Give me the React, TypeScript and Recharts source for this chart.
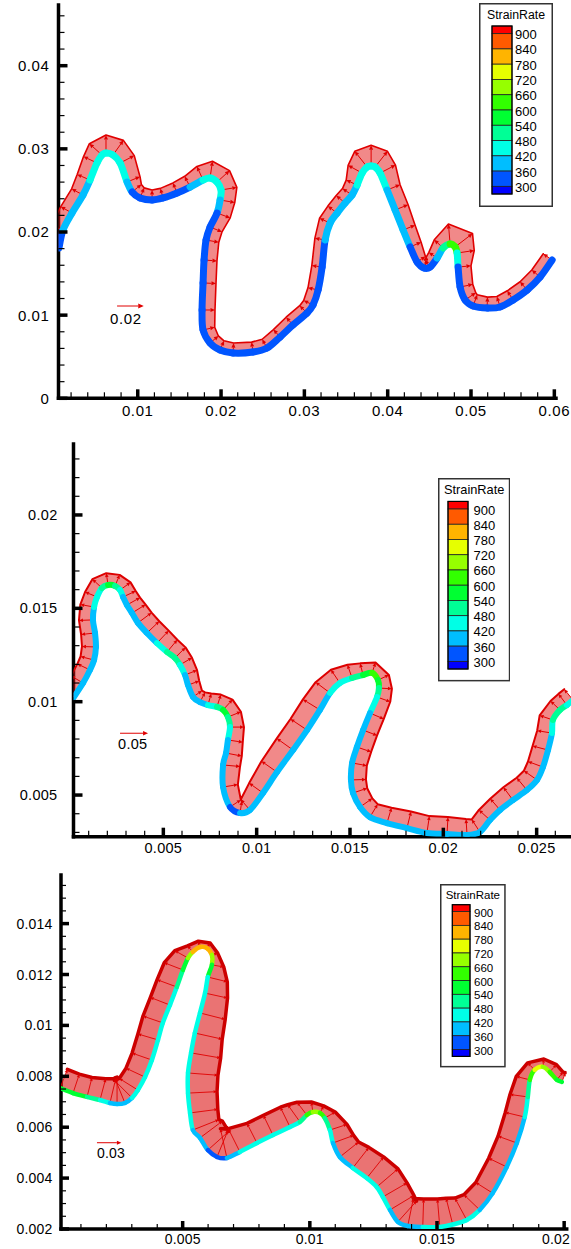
import React from 'react';
import { ScatterChart, Scatter, XAxis, YAxis, Legend } from 'recharts';

const FONT = "'Liberation Sans', Arial, Helvetica, sans-serif";
const CHART_W = 571;

// ---------- colour map (StrainRate contour levels, top to bottom) ----------
const levelValues = [900, 840, 780, 720, 660, 600, 540, 480, 420, 360, 300];
const levelColors = ['#ff0000', '#ff5a00', '#ffb400', '#e6ff00', '#96ff00', '#32ff00', '#00ff32', '#00ff96', '#00ffe6', '#00beff', '#0055ff', '#0000ff'];
const legendTitle = 'StrainRate';

// ---------- panel 1 ----------
const p1X = [0.00055, 0.00103, 0.00211, 0.00343, 0.00427, 0.00511, 0.00571, 0.00619, 0.00703, 0.00788,
  0.00872, 0.00932, 0.01028, 0.01172, 0.01304, 0.01472, 0.01628, 0.01784, 0.01868, 0.01952,
  0.02, 0.01988, 0.01952, 0.01868, 0.0182, 0.01796, 0.01784, 0.01772, 0.01784, 0.01868,
  0.01988, 0.02144, 0.02384, 0.02552, 0.02708, 0.02864, 0.03032, 0.03104, 0.03165, 0.03213,
  0.03249, 0.03309, 0.03393, 0.03489, 0.03573, 0.03633, 0.03693, 0.03753, 0.03801, 0.03849,
  0.03909, 0.03993, 0.04089, 0.04185, 0.04269, 0.04353, 0.04437, 0.04509, 0.04593, 0.04665,
  0.04749, 0.04809, 0.04833, 0.04845, 0.04869, 0.04929, 0.05025, 0.05193, 0.05349, 0.05505,
  0.05674, 0.0583, 0.05974];
const p1Y = [0.01808, 0.02024, 0.02228, 0.02445, 0.02625, 0.0283, 0.02926, 0.0295, 0.02926, 0.0283,
  0.02601, 0.02481, 0.02409, 0.02385, 0.02409, 0.02469, 0.02541, 0.02625, 0.02649, 0.02601,
  0.02505, 0.02385, 0.02228, 0.0206, 0.01904, 0.01663, 0.01387, 0.01062, 0.00821, 0.00665,
  0.00581, 0.00545, 0.00557, 0.00605, 0.00737, 0.00882, 0.01026, 0.01122, 0.01302, 0.01579,
  0.01904, 0.02108, 0.02228, 0.02349, 0.02445, 0.02565, 0.02709, 0.02782, 0.02794, 0.02782,
  0.02709, 0.02505, 0.02265, 0.02024, 0.0182, 0.01639, 0.01567, 0.01579, 0.01687, 0.01808,
  0.01856, 0.0182, 0.01747, 0.01579, 0.01338, 0.01182, 0.0111, 0.01086, 0.01098, 0.01182,
  0.01302, 0.01459, 0.01663];
const p1Rate = [330, 330, 390, 390, 390, 450, 450, 450, 450, 450,
  390, 330, 330, 330, 330, 330, 330, 450, 450, 450,
  450, 390, 330, 330, 330, 330, 330, 330, 330, 330,
  330, 330, 330, 330, 330, 330, 330, 330, 330, 330,
  330, 390, 390, 330, 390, 390, 450, 450, 450, 450,
  450, 390, 390, 390, 330, 330, 330, 330, 330, 390,
  630, 630, 570, 330, 330, 330, 330, 330, 330, 330,
  330, 330, 330];
const p1Mag = [0.009, 0.0097, 0.0097, 0.0097, 0.0105, 0.0112, 0.0127, 0.0135, 0.0135, 0.012,
  0.0105, 0.009, 0.0082, 0.0075, 0.0075, 0.0082, 0.009, 0.0112, 0.0127, 0.0127,
  0.012, 0.0112, 0.0105, 0.0097, 0.0097, 0.0097, 0.0097, 0.0097, 0.009, 0.0082,
  0.0075, 0.0075, 0.0075, 0.0075, 0.0075, 0.0078, 0.0078, 0.0078, 0.0078, 0.0078,
  0.0078, 0.0087, 0.0087, 0.0087, 0.0087, 0.009, 0.012, 0.015, 0.0155, 0.015,
  0.013, 0.0105, 0.0105, 0.0097, 0.009, 0.0075, 0.0067, 0.0067, 0.0075, 0.009,
  0.015, 0.0165, 0.013, 0.0097, 0.0097, 0.0097, 0.009, 0.0082, 0.0082, 0.0082,
  0.0082, 0.0082, 0.0082];
const p1XMajor = [0.01, 0.02, 0.03, 0.04, 0.05, 0.06];
const p1YMajor = [0, 0.01, 0.02, 0.03, 0.04];
const p1RefAt = [0.00752, 0.0111];
const p1RefVector = 0.02;
const p1RefLabel = '0.02';

// ---------- panel 2 ----------
const p2X = [0.00021, 0.0007, 0.00107, 0.00129, 0.00139, 0.00134, 0.00123, 0.00129, 0.00145, 0.00171,
  0.00204, 0.00241, 0.00268, 0.00284, 0.00305, 0.00332, 0.00364, 0.00412, 0.00466, 0.0052,
  0.00562, 0.00589, 0.00616, 0.00632, 0.00659, 0.00696, 0.00739, 0.00787, 0.0082, 0.00846,
  0.00857, 0.00846, 0.00836, 0.0082, 0.0082, 0.00857, 0.00911, 0.00964, 0.01034, 0.01109,
  0.01195, 0.0127, 0.01339, 0.01393, 0.01446, 0.01511, 0.0157, 0.01618, 0.0165, 0.01655,
  0.01645, 0.01607, 0.0157, 0.01537, 0.01511, 0.01505, 0.01516, 0.01554, 0.01607, 0.01698,
  0.01805, 0.01912, 0.0202, 0.02127, 0.02196, 0.0225, 0.02304, 0.02373, 0.02448, 0.02502,
  0.02534, 0.02561, 0.02582, 0.02587, 0.02625, 0.02662, 0.02695];
const p2Y = [0.01025, 0.011, 0.0117, 0.01223, 0.01293, 0.01368, 0.01438, 0.01507, 0.01561, 0.01609,
  0.01625, 0.0162, 0.01598, 0.01561, 0.01518, 0.01475, 0.01422, 0.01368, 0.01314, 0.01266,
  0.01234, 0.01197, 0.01143, 0.01089, 0.01025, 0.00998, 0.00982, 0.00972, 0.00956, 0.00918,
  0.00864, 0.00795, 0.00725, 0.00661, 0.00543, 0.00436, 0.00404, 0.0042, 0.00511, 0.00623,
  0.00741, 0.00848, 0.00956, 0.01047, 0.011, 0.01127, 0.01143, 0.01154, 0.01116, 0.01073,
  0.01025, 0.00939, 0.00848, 0.00757, 0.00672, 0.00581, 0.00511, 0.00436, 0.00382, 0.0035,
  0.00323, 0.00297, 0.00291, 0.00286, 0.00302, 0.00366, 0.0042, 0.00473, 0.00527, 0.00581,
  0.0065, 0.00741, 0.00832, 0.00902, 0.00956, 0.00982, 0.01009];
const p2Rate = [390, 390, 390, 390, 390, 390, 390, 390, 450, 450,
  570, 510, 450, 390, 390, 390, 390, 390, 390, 450,
  510, 450, 390, 390, 330, 390, 390, 450, 570, 510,
  450, 390, 390, 390, 390, 330, 330, 390, 390, 390,
  390, 390, 390, 390, 450, 450, 510, 570, 630, 510,
  450, 390, 390, 390, 390, 390, 390, 390, 390, 390,
  390, 390, 390, 390, 330, 390, 390, 390, 390, 390,
  390, 390, 390, 450, 510, 450, 390];
const p2Mag = [0.025, 0.025, 0.025, 0.025, 0.025, 0.025, 0.025, 0.025, 0.0232, 0.0232,
  0.0214, 0.0214, 0.0232, 0.025, 0.0268, 0.0286, 0.0304, 0.0304, 0.0304, 0.0286,
  0.0268, 0.025, 0.0232, 0.0214, 0.0196, 0.0196, 0.0214, 0.0232, 0.025, 0.025,
  0.025, 0.0268, 0.0286, 0.0304, 0.0268, 0.0232, 0.0214, 0.025, 0.0304, 0.0339,
  0.0357, 0.0357, 0.0357, 0.0321, 0.0286, 0.025, 0.0214, 0.0196, 0.0214, 0.0232,
  0.025, 0.0268, 0.0268, 0.0268, 0.0268, 0.0268, 0.0268, 0.0268, 0.0268, 0.0286,
  0.0304, 0.0304, 0.0304, 0.0286, 0.0268, 0.0268, 0.0268, 0.0286, 0.0286, 0.0286,
  0.0286, 0.0286, 0.0268, 0.025, 0.0232, 0.025, 0.025];
const p2XMajor = [0.005, 0.01, 0.015, 0.02, 0.025];
const p2YMajor = [0.005, 0.01, 0.015, 0.02];
const p2RefAt = [0.00268, 0.00831];
const p2RefVector = 0.05;
const p2RefLabel = '0.05';

// ---------- panel 3 ----------
const p3X = [0.00018, 0.00069, 0.00124, 0.00175, 0.00214, 0.00242, 0.00273, 0.00301, 0.00324, 0.00352,
  0.00379, 0.00403, 0.00422, 0.0045, 0.00477, 0.00501, 0.00521, 0.0054, 0.00568, 0.00595,
  0.00615, 0.00615, 0.00599, 0.00588, 0.00568, 0.00548, 0.00533, 0.00521, 0.00521, 0.00529,
  0.0054, 0.00568, 0.00599, 0.00635, 0.00674, 0.00725, 0.00792, 0.00855, 0.00922, 0.00961,
  0.00988, 0.01012, 0.0104, 0.01059, 0.01079, 0.01091, 0.01118, 0.01169, 0.01224, 0.01263,
  0.01287, 0.01315, 0.01346, 0.01385, 0.01444, 0.01511, 0.01562, 0.01617, 0.01668, 0.01719,
  0.01774, 0.01814, 0.01845, 0.01857, 0.01865, 0.01884, 0.01916, 0.01943, 0.01971, 0.01991];
const p3Y = [0.00754, 0.00734, 0.00719, 0.00707, 0.00695, 0.00691, 0.00695, 0.00715, 0.00746, 0.00797,
  0.00864, 0.00943, 0.0101, 0.0108, 0.01151, 0.01218, 0.01265, 0.01289, 0.01308, 0.01304,
  0.01277, 0.01238, 0.0119, 0.01127, 0.01049, 0.0097, 0.00892, 0.00813, 0.00734, 0.00656,
  0.00589, 0.00558, 0.0051, 0.00483, 0.00479, 0.00503, 0.00538, 0.00569, 0.00601, 0.00621,
  0.00648, 0.0066, 0.00656, 0.00636, 0.00589, 0.00538, 0.00483, 0.0044, 0.004, 0.00365,
  0.00326, 0.00275, 0.00228, 0.00212, 0.00208, 0.00208, 0.00218, 0.00235, 0.00275, 0.00341,
  0.00444, 0.00538, 0.0064, 0.00719, 0.00786, 0.00825, 0.00837, 0.00817, 0.00786, 0.00778];
const p3Rate = [570, 570, 510, 450, 390, 390, 390, 390, 450, 450,
  450, 450, 450, 450, 450, 510, 630, 750, 810, 810,
  750, 630, 450, 450, 450, 450, 450, 450, 450, 450,
  390, 390, 330, 330, 330, 390, 450, 450, 450, 450,
  570, 630, 690, 570, 450, 390, 390, 390, 450, 450,
  450, 390, 390, 390, 390, 450, 450, 450, 390, 390,
  390, 390, 390, 450, 570, 690, 750, 630, 570, 510];
const p3Mag = [0.0246, 0.0246, 0.0246, 0.027, 0.0307, 0.0332, 0.0332, 0.0307, 0.027, 0.0258,
  0.0258, 0.0258, 0.0258, 0.0258, 0.0258, 0.0246, 0.0185, 0.0098, 0.0074, 0.0074,
  0.0074, 0.0148, 0.0246, 0.0283, 0.032, 0.0344, 0.0369, 0.0369, 0.0357, 0.0344,
  0.0344, 0.0344, 0.0344, 0.0369, 0.0369, 0.032, 0.027, 0.027, 0.027, 0.0258,
  0.0197, 0.0123, 0.0098, 0.0148, 0.0221, 0.027, 0.0295, 0.032, 0.0332, 0.0344,
  0.0344, 0.0344, 0.0344, 0.0344, 0.0344, 0.0344, 0.0332, 0.0307, 0.027, 0.0246,
  0.0246, 0.0246, 0.0246, 0.0221, 0.0172, 0.0123, 0.0098, 0.0123, 0.0123, 0.0123];
const p3XMajor = [0.005, 0.01, 0.015, 0.02];
const p3YMajor = [0.002, 0.004, 0.006, 0.008, 0.01, 0.012, 0.014];
const p3RefAt = [0.00163, 0.00539];
const p3RefVector = 0.03;
const p3RefLabel = '0.03';

// ---------- helpers ----------
function colorFor(rate: number) {
  for (let i = 0; i < levelValues.length; i++) if (rate >= levelValues[i]) return levelColors[i];
  return levelColors[levelColors.length - 1];
}

function minorTicks(from: number, to: number, step: number, majors: number[]) {
  const out: number[] = [];
  for (let k = 0; from + k * step <= to + step * 1e-6; k++) {
    const v = +(from + k * step).toFixed(7);
    if (!majors.some((m) => Math.abs(m - v) < 1e-9)) out.push(v);
  }
  return out;
}

type Pt = { x: number; y: number };

function buildGeometry(xs: number[], ys: number[], mag: number[], vecScale: number) {
  const knots: Pt[] = xs.map((x, i) => ({ x, y: ys[i] }));
  const n = knots.length;
  const tips: Pt[] = knots.map((k, i) => {
    const a = knots[Math.max(0, i - 1)];
    const b = knots[Math.min(n - 1, i + 1)];
    const tx = b.x - a.x;
    const ty = b.y - a.y;
    const len = Math.hypot(tx, ty) || 1;
    const L = mag[i] * vecScale;
    return { x: k.x - (ty / len) * L, y: k.y + (tx / len) * L };
  });
  const arrows: Pt[] = [];
  knots.forEach((k, i) => { arrows.push(k); arrows.push(tips[i]); });
  const band: Pt[] = [...knots, ...tips.slice().reverse()];
  return { knots, arrows, band };
}

function EmptyShape() {
  return <g />;
}

function BandPath(props: any) {
  const pts: Pt[] = props.points || [];
  const n = props.count;
  if (pts.length < 2 * n) return <g />;
  const poly = pts.map((p, i) => `${i ? 'L' : 'M'}${p.x.toFixed(2)},${p.y.toFixed(2)}`).join('') + 'Z';
  const tip = pts.slice(n).map((p, i) => `${i ? 'L' : 'M'}${p.x.toFixed(2)},${p.y.toFixed(2)}`).join('');
  return (
    <g>
      <path d={poly} fill={props.bandColor} fillOpacity={props.bandOpacity} stroke="none" />
      <path d={tip} fill="none" stroke={props.tipColor} strokeWidth={props.tipWidth} strokeLinejoin="round" strokeLinecap="round" />
    </g>
  );
}

function arrowEls(a: Pt, b: Pt, color: string, shaft: number, head: number, key: string) {
  const dx = b.x - a.x;
  const dy = b.y - a.y;
  const len = Math.hypot(dx, dy);
  if (len < 0.5) return null;
  const ux = dx / len;
  const uy = dy / len;
  const hl = Math.min(head, len * 0.6);
  const hw = hl * 0.45;
  const bx = b.x - ux * hl;
  const by = b.y - uy * hl;
  return (
    <g key={key}>
      <line x1={a.x} y1={a.y} x2={bx} y2={by} stroke={color} strokeWidth={shaft} />
      <polygon points={`${b.x},${b.y} ${bx - uy * hw},${by + ux * hw} ${bx + uy * hw},${by - ux * hw}`} fill={color} />
    </g>
  );
}

function ArrowSet(props: any) {
  const pts: Pt[] = props.points || [];
  const els: any[] = [];
  for (let i = 0; i + 1 < pts.length; i += 2) {
    els.push(arrowEls(pts[i], pts[i + 1], props.arrowColor, props.shaft, props.head, 'a' + i));
  }
  return <g>{els}</g>;
}

function CurvePath(props: any) {
  const pts: Pt[] = props.points || [];
  const rates: number[] = props.rates;
  const segs: any[] = [];
  for (let i = 0; i < pts.length - 1; i++) {
    const p0 = pts[Math.max(0, i - 1)];
    const p1 = pts[i];
    const p2 = pts[i + 1];
    const p3 = pts[Math.min(pts.length - 1, i + 2)];
    const c1x = p1.x + (p2.x - p0.x) / 6;
    const c1y = p1.y + (p2.y - p0.y) / 6;
    const c2x = p2.x - (p3.x - p1.x) / 6;
    const c2y = p2.y - (p3.y - p1.y) / 6;
    const rate = (rates[i] + rates[i + 1]) / 2;
    segs.push(
      <path key={i} d={`M${p1.x},${p1.y}C${c1x},${c1y} ${c2x},${c2y} ${p2.x},${p2.y}`}
        stroke={colorFor(rate)} strokeWidth={props.curveWidth} fill="none" strokeLinecap="round" />
    );
  }
  return <g>{segs}</g>;
}

function RefArrow(props: any) {
  const pts: Pt[] = props.points || [];
  if (pts.length < 2) return <g />;
  const a = pts[0];
  return (
    <g>
      {arrowEls(a, pts[1], props.arrowColor, 1, props.head + 1, 'ref')}
      <text x={a.x + props.labelDx} y={a.y + props.labelDy} fontFamily={FONT} fontSize={props.labelSize}
        letterSpacing={props.spacing} dominantBaseline="central" fill="#000">{props.label}</text>
    </g>
  );
}

function ColorBar({ box }: any) {
  const u = box.barH / 11;
  return (
    <svg width={box.w} height={box.h} style={{ display: 'block' }}>
      <rect x={0.75} y={0.75} width={box.w - 1.5} height={box.h - 1.5} fill="#fff" stroke="#333" strokeWidth={1.5} />
      <text x={box.w / 2} y={box.titleY} textAnchor="middle" dominantBaseline="central" fontFamily={FONT} fontSize={box.titleSize} fill="#000">{legendTitle}</text>
      {levelColors.map((c, i) => {
        const y0 = i === 0 ? 0 : (i - 0.5) * u;
        const y1 = i === levelColors.length - 1 ? 11 * u : (i + 0.5) * u;
        return <rect key={i} x={box.barX} y={box.barTop + y0} width={box.barW} height={y1 - y0} fill={c} stroke="#222" strokeWidth={0.8} />;
      })}
      <rect x={box.barX} y={box.barTop} width={box.barW} height={box.barH} fill="none" stroke="#000" strokeWidth={1.2} />
      {levelValues.map((v, i) => (
        <text key={'t' + i} x={box.labelX} y={box.barTop + (i + 0.5) * u + 1} dominantBaseline="central"
          fontFamily={FONT} fontSize={box.labelSize} fill="#000">{v}</text>
      ))}
    </svg>
  );
}

function makeTick(axis: 'x' | 'y', majors: number[], o: any) {
  return (props: any) => {
    const { x, y, payload } = props;
    const v = payload.value;
    const major = majors.some((m) => Math.abs(m - v) < 1e-9);
    const len = major ? o.majorLen : o.minorLen;
    const w = major ? o.majorW : o.minorW;
    if (axis === 'x') {
      const nearEdge = x > CHART_W - 16;
      return (
        <g>
          <line x1={x} x2={x} y1={y} y2={y - len} stroke="#000" strokeWidth={w} />
          {major && (
            <text x={nearEdge ? CHART_W - 1 : x} y={y + o.xLabelOff} textAnchor={nearEdge ? 'end' : 'middle'}
              dominantBaseline="central" fontFamily={FONT} fontSize={o.font} letterSpacing={o.spacing} fill="#000">{String(v)}</text>
          )}
        </g>
      );
    }
    return (
      <g>
        <line x1={x} x2={x + len} y1={y} y2={y} stroke="#000" strokeWidth={w} />
        {major && (
          <text x={x - o.yLabelOff} y={y} textAnchor="end" dominantBaseline="central" fontFamily={FONT}
            fontSize={o.font} letterSpacing={o.spacing} fill="#000">{String(v)}</text>
        )}
      </g>
    );
  };
}

const panels = [
  {
    top: 0, height: 425, margin: { top: 5, right: 15, bottom: 0, left: 0 }, yAxisWidth: 58.5, xAxisHeight: 26.7,
    xDomain: [0.00049, 0.0602], yDomain: [0, 0.0473],
    xs: p1X, ys: p1Y, rate: p1Rate, mag: p1Mag, vecScale: 0.16,
    refAt: p1RefAt, refVector: p1RefVector, refLabel: p1RefLabel, refLabelDx: -7, refLabelDy: 12,
    xMajor: p1XMajor, yMajor: p1YMajor,
    xMinor: minorTicks(0.002, 0.058, 0.002, p1XMajor), yMinor: minorTicks(0.002, 0.046, 0.002, p1YMajor),
    curveWidth: 7, shaft: 1, head: 4.5, bandColor: '#e31414', bandOpacity: 0.5, tipColor: '#e00000', tipWidth: 1.6,
    tick: { font: 15, spacing: 0.6, yLabelOff: 9, xLabelOff: 12, majorLen: 9, minorLen: 6, majorW: 3.5, minorW: 1.2 },
    legend: { left: 479, top: 3, w: 74, h: 204, barX: 13, barW: 20, barTop: 23, barH: 168, titleY: 12, titleSize: 12.3, labelX: 36, labelSize: 13 },
  },
  {
    top: 430, height: 430, margin: { top: 14, right: 0, bottom: 0, left: 0 }, yAxisWidth: 73.5, xAxisHeight: 23.3,
    xDomain: [0.000187, 0.02684], yDomain: [0.00277, 0.0238],
    xs: p2X, ys: p2Y, rate: p2Rate, mag: p2Mag, vecScale: 0.03,
    refAt: p2RefAt, refVector: p2RefVector, refLabel: p2RefLabel, refLabelDx: -2, refLabelDy: 11,
    xMajor: p2XMajor, yMajor: p2YMajor,
    xMinor: minorTicks(0.001, 0.026, 0.001, p2XMajor), yMinor: minorTicks(0.003, 0.023, 0.001, p2YMajor),
    curveWidth: 6, shaft: 1, head: 4, bandColor: '#e31414', bandOpacity: 0.5, tipColor: '#dd0000', tipWidth: 2,
    tick: { font: 14.5, spacing: 0.3, yLabelOff: 16, xLabelOff: 11.5, majorLen: 9, minorLen: 6, majorW: 3.5, minorW: 1.2 },
    legend: { left: 437.7, top: 48.3, w: 72.3, h: 203.4, barX: 10, barW: 20, barTop: 23.4, barH: 167.6, titleY: 11.7, titleSize: 12.8, labelX: 35.6, labelSize: 13 },
  },
  {
    top: 860, height: 389, margin: { top: 15, right: 4.3, bottom: 0, left: 0 }, yAxisWidth: 61, xAxisHeight: 20,
    xDomain: [0.000216, 0.0201], yDomain: [0.002, 0.01591],
    xs: p3X, ys: p3Y, rate: p3Rate, mag: p3Mag, vecScale: 0.032,
    refAt: p3RefAt, refVector: p3RefVector, refLabel: p3RefLabel, refLabelDx: 0, refLabelDy: 10,
    xMajor: p3XMajor, yMajor: p3YMajor,
    xMinor: minorTicks(0.001, 0.019, 0.001, p3XMajor), yMinor: minorTicks(0.0025, 0.0155, 0.0005, p3YMajor),
    curveWidth: 4.5, shaft: 0.9, head: 3.5, bandColor: '#d80000', bandOpacity: 0.55, tipColor: '#cc0000', tipWidth: 3.5,
    tick: { font: 14, spacing: 0.2, yLabelOff: 8.5, xLabelOff: 9.5, majorLen: 8, minorLen: 5, majorW: 3.5, minorW: 1.2 },
    legend: { left: 440, top: 24.3, w: 65.7, h: 183.4, barX: 12.3, barW: 17.7, barTop: 20.7, barH: 151.7, titleY: 10.7, titleSize: 11.5, labelX: 34, labelSize: 11.5 },
  },
];

function Panel({ cfg }: any) {
  const geo = buildGeometry(cfg.xs, cfg.ys, cfg.mag, cfg.vecScale);
  const ref: Pt[] = [
    { x: cfg.refAt[0], y: cfg.refAt[1] },
    { x: cfg.refAt[0] + cfg.refVector * cfg.vecScale, y: cfg.refAt[1] },
  ];
  const xTicks = [...cfg.xMajor, ...cfg.xMinor];
  const yTicks = [...cfg.yMajor, ...cfg.yMinor];
  return (
    <div style={{ position: 'absolute', left: 0, top: cfg.top }}>
      <ScatterChart width={CHART_W} height={cfg.height} margin={cfg.margin}>
        <XAxis type="number" dataKey="x" domain={cfg.xDomain} allowDataOverflow ticks={xTicks} interval={0}
          tickSize={0} tickMargin={0} tickLine={false} tick={makeTick('x', cfg.xMajor, cfg.tick)}
          height={cfg.xAxisHeight} axisLine={{ stroke: '#000', strokeWidth: 3.5, strokeLinecap: 'square' }} />
        <YAxis type="number" dataKey="y" domain={cfg.yDomain} allowDataOverflow ticks={yTicks} interval={0}
          tickSize={0} tickMargin={0} tickLine={false} tick={makeTick('y', cfg.yMajor, cfg.tick)}
          width={cfg.yAxisWidth} axisLine={{ stroke: '#000', strokeWidth: 3.5, strokeLinecap: 'square' }} />
        <Scatter data={geo.band} shape={EmptyShape} legendType="none" isAnimationActive={false}
          line={<BandPath count={geo.knots.length} bandColor={cfg.bandColor} bandOpacity={cfg.bandOpacity} tipColor={cfg.tipColor} tipWidth={cfg.tipWidth} />} />
        <Scatter data={geo.arrows} shape={EmptyShape} legendType="none" isAnimationActive={false}
          line={<ArrowSet arrowColor="#e00000" shaft={cfg.shaft} head={cfg.head} />} />
        <Scatter data={geo.knots} shape={EmptyShape} legendType="none" isAnimationActive={false}
          line={<CurvePath rates={cfg.rate} curveWidth={cfg.curveWidth} />} />
        <Scatter data={ref} shape={EmptyShape} legendType="none" isAnimationActive={false}
          line={<RefArrow arrowColor="#e00000" head={cfg.head} label={cfg.refLabel} labelDx={cfg.refLabelDx} labelDy={cfg.refLabelDy} labelSize={cfg.tick.font} spacing={cfg.tick.spacing} />} />
        <Legend layout="vertical" verticalAlign="middle" align="center"
          wrapperStyle={{ left: cfg.legend.left, top: cfg.legend.top, width: cfg.legend.w, height: cfg.legend.h }}
          content={() => <ColorBar box={cfg.legend} />} />
      </ScatterChart>
    </div>
  );
}

export default function App() {
  return (
    <div style={{ position: 'absolute', left: 0, top: 0, width: CHART_W, height: 1249, background: '#fff', overflow: 'hidden' }}>
      {panels.map((cfg, i) => <Panel key={i} cfg={cfg} />)}
    </div>
  );
}
